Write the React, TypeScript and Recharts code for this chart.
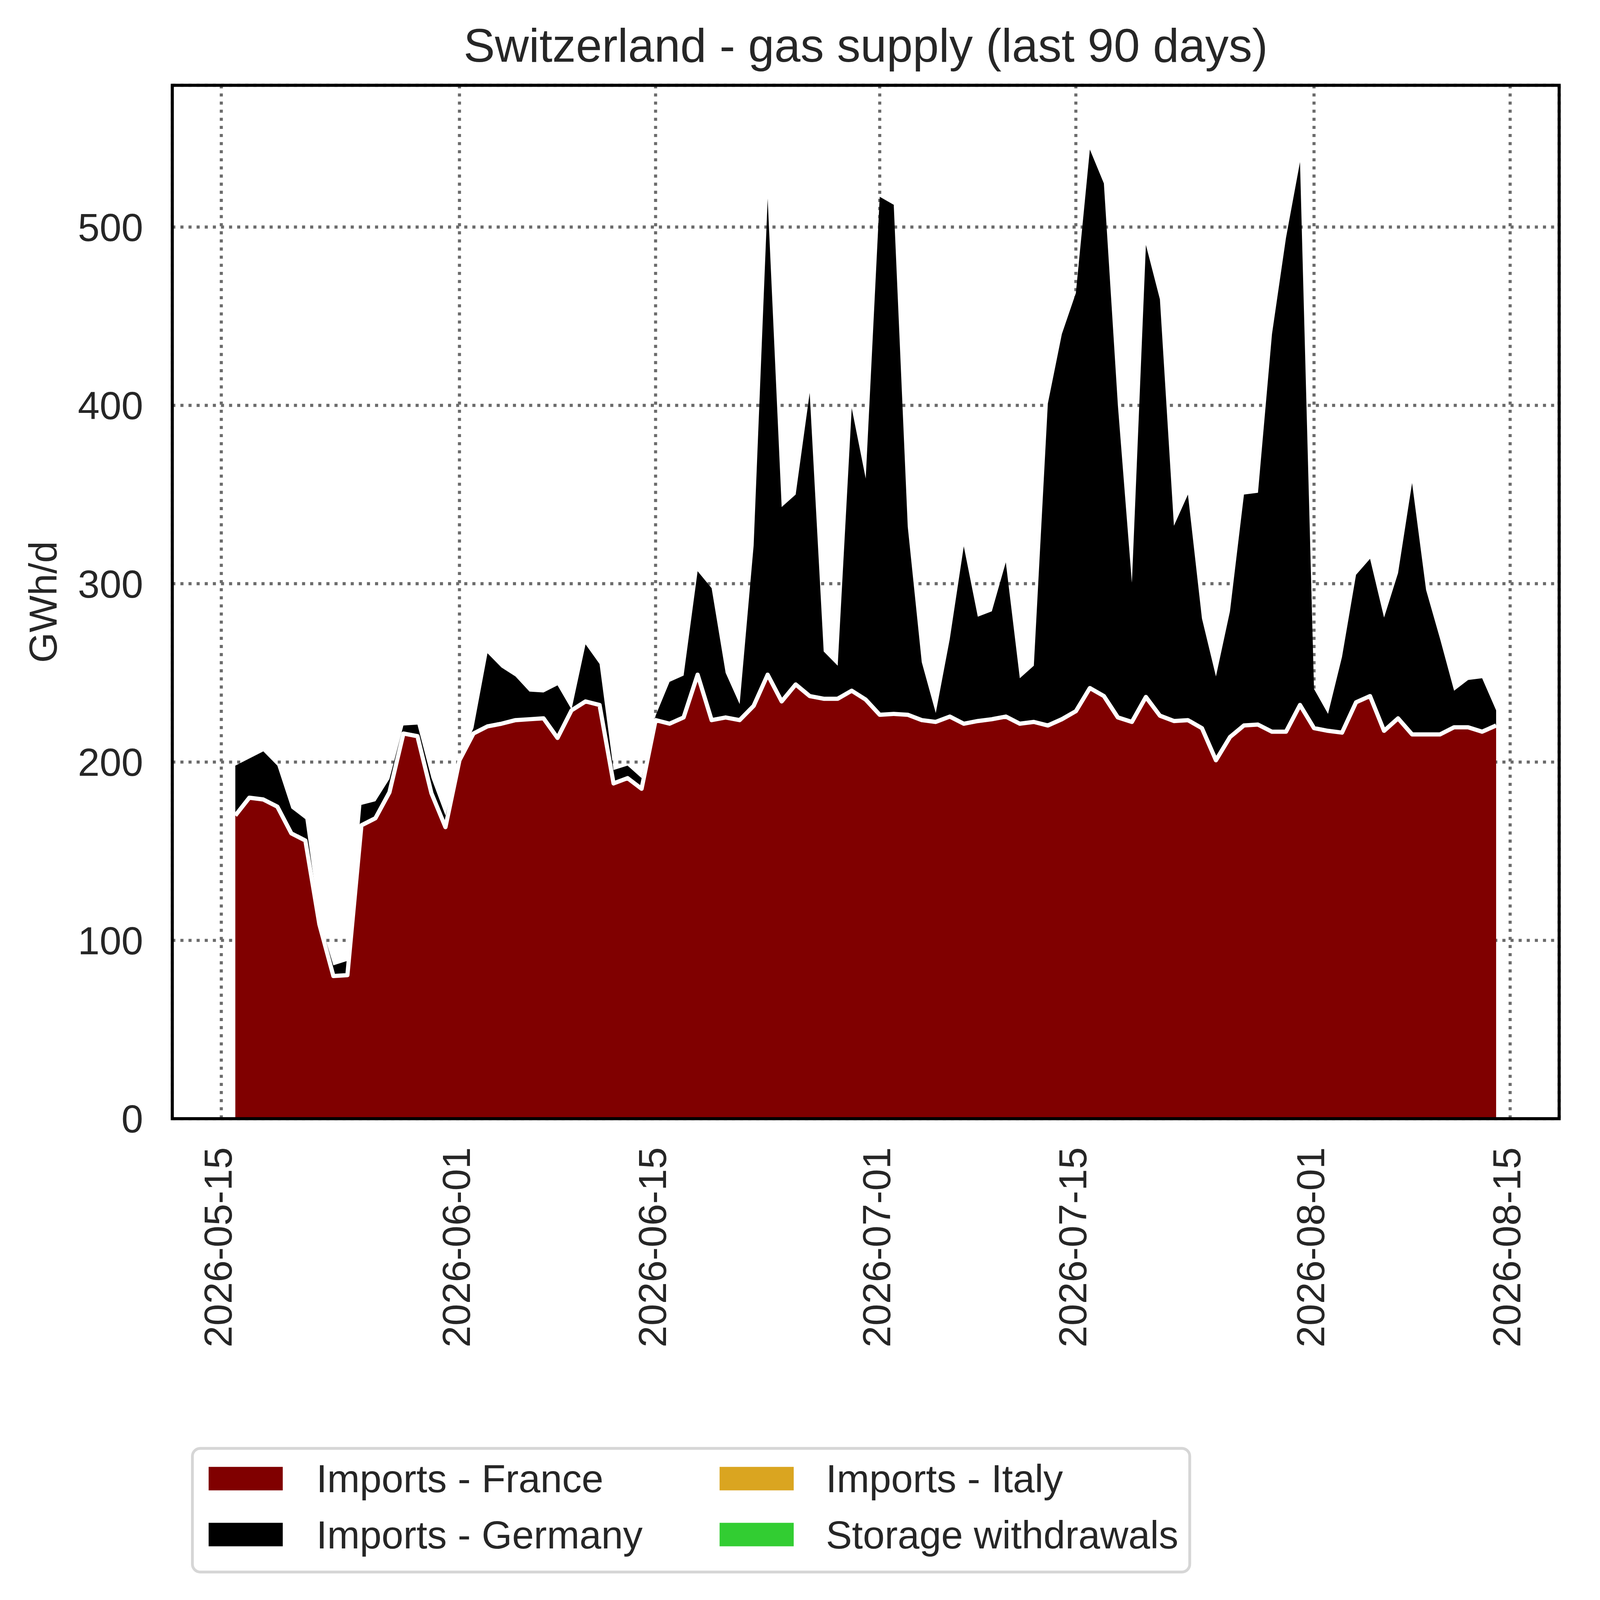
import React from "react";
import { Area, CartesianGrid, ComposedChart, Line, XAxis, YAxis } from "recharts";

// figure layout (pixels of the 5675 x 5721 canvas)
const WIDTH = 5675;
const HEIGHT = 5721;
const PLOT = { left: 616, right: 5575, top: 305, bottom: 4000 };
const Y_AXIS_W = 400;
const X_AXIS_H = 600;
const FONT = '"Liberation Sans", Arial, Helvetica, sans-serif';
const TEXT = "#262626";

// daily values from 2026-05-16 (day 0) to 2026-08-14 (day 90), GWh/d
const franceImports = [
  170, 180, 179, 175, 160, 156, 109, 80, 80.5, 164.5,
  168.5, 183, 216, 214.5, 182.5, 163.5, 201, 216, 220, 221.5,
  223.5, 224, 224.5, 213.5, 229, 234, 232, 188, 191, 185,
  223.5, 221.5, 225, 249, 223.5, 225, 223.5, 231.5, 249, 234,
  243.5, 237, 235.5, 235.5, 240, 235, 226.5, 227, 226.5, 223.5,
  222.5, 225.5, 221.5, 223, 224, 225.5, 221.5, 222.5, 220.5, 224,
  228.5, 241.5, 237, 225, 222.5, 236.5, 226, 223, 223.5, 219,
  201, 214, 220.5, 221, 217, 217, 232, 219, 217.5, 216.5,
  233.5, 237, 217.5, 224.5, 215.5, 215.5, 215.5, 219.5, 219.5, 217,
  220.5,
];

const germanyImports = [
  28, 22, 27, 23, 14, 12, 3, 6, 8, 11.5,
  9.5, 7.5, 4.5, 6.5, 8.5, 6.5, 0, 3, 41, 31.5,
  24.5, 15.5, 14.5, 29.5, 0.5, 32, 23, 7.5, 7, 6,
  2.5, 23.5, 23.5, 58, 74, 25, 9, 90, 267, 109,
  106.5, 170, 26.5, 18.5, 158.5, 124, 290.5, 285.5, 105.5, 32.5,
  5, 43.5, 99.5, 58.5, 60.5, 86.5, 25.5, 31.5, 180.5, 216,
  234.5, 302, 287.5, 175, 78, 253.5, 233.5, 109.5, 126.5, 61.5,
  47, 70.5, 129.5, 130, 223, 277, 304.5, 22, 9.5, 42.5,
  71.5, 77, 63.5, 81.5, 141, 81, 53.5, 20.5, 26.5, 30,
  8.5,
];

const italyImports = [
  0, 0, 0, 0, 0, 0, 0, 0, 0, 0,
  0, 0, 0, 0, 0, 0, 0, 0, 0, 0,
  0, 0, 0, 0, 0, 0, 0, 0, 0, 0,
  0, 0, 0, 0, 0, 0, 0, 0, 0, 0,
  0, 0, 0, 0, 0, 0, 0, 0, 0, 0,
  0, 0, 0, 0, 0, 0, 0, 0, 0, 0,
  0, 0, 0, 0, 0, 0, 0, 0, 0, 0,
  0, 0, 0, 0, 0, 0, 0, 0, 0, 0,
  0, 0, 0, 0, 0, 0, 0, 0, 0, 0,
  0,
];

const storageWithdrawals = [
  0, 0, 0, 0, 0, 0, 0, 0, 0, 0,
  0, 0, 0, 0, 0, 0, 0, 0, 0, 0,
  0, 0, 0, 0, 0, 0, 0, 0, 0, 0,
  0, 0, 0, 0, 0, 0, 0, 0, 0, 0,
  0, 0, 0, 0, 0, 0, 0, 0, 0, 0,
  0, 0, 0, 0, 0, 0, 0, 0, 0, 0,
  0, 0, 0, 0, 0, 0, 0, 0, 0, 0,
  0, 0, 0, 0, 0, 0, 0, 0, 0, 0,
  0, 0, 0, 0, 0, 0, 0, 0, 0, 0,
  0,
];

const yTicks = [0, 100, 200, 300, 400, 500];
// day offsets (from 2026-05-16) of the date ticks
const dateTickDays = [-1, 16, 30, 46, 60, 77, 91];
const dateTickLabels = [
  "2026-05-15",
  "2026-06-01",
  "2026-06-15",
  "2026-07-01",
  "2026-07-15",
  "2026-08-01",
  "2026-08-15",
];

const series = [
  { key: "france", name: "Imports - France", color: "#800000" },
  { key: "germany", name: "Imports - Germany", color: "#000000" },
  { key: "italy", name: "Imports - Italy", color: "#DAA520" },
  { key: "storage", name: "Storage withdrawals", color: "#32CD32" },
];

const rows = franceImports.map((v, i) => ({
  day: i,
  france: v,
  germany: germanyImports[i],
  italy: italyImports[i],
  storage: storageWithdrawals[i],
}));

function DateTick(props: any) {
  const { x, y, payload } = props;
  const idx = dateTickDays.indexOf(payload.value);
  const ty = y + 102;
  return (
    <text
      x={x}
      y={ty}
      dy={37}
      transform={`rotate(-90 ${x} ${ty})`}
      textAnchor="end"
      fontSize={140}
      fontFamily={FONT}
      fill={TEXT}
    >
      {dateTickLabels[idx]}
    </text>
  );
}

function Overlay() {
  const midX = (PLOT.left + PLOT.right) / 2;
  const midY = (PLOT.top + PLOT.bottom) / 2;
  return (
    <svg
      width={WIDTH}
      height={HEIGHT}
      style={{ position: "absolute", left: 0, top: 0, pointerEvents: "none" }}
      fontFamily={FONT}
    >
      <rect
        x={PLOT.left}
        y={PLOT.top}
        width={PLOT.right - PLOT.left}
        height={PLOT.bottom - PLOT.top}
        fill="none"
        stroke="#000"
        strokeWidth={11}
      />
      <text x={midX} y={221} textAnchor="middle" fontSize={168} fill={TEXT}>
        Switzerland - gas supply (last 90 days)
      </text>
      <text
        x={202}
        y={midY}
        transform={`rotate(-90 202 ${midY})`}
        textAnchor="middle"
        fontSize={140}
        fill={TEXT}
      >
        GWh/d
      </text>
      {/* legend */}
      <rect x={688} y={5179} width={3566} height={442} rx={28} fill="#fff" stroke="#d6d6d6" strokeWidth={10} />
      {series.map((s, i) => {
        const col = Math.floor(i / 2);
        const row = i % 2;
        const px = col === 0 ? 746 : 2573;
        const tx = col === 0 ? 1131 : 2953;
        const base = row === 0 ? 5336 : 5536;
        return (
          <g key={s.key}>
            <rect x={px} y={base - 91} width={265} height={84} fill={s.color} />
            <text x={tx} y={base} fontSize={140} fill={TEXT}>
              {s.name}
            </text>
          </g>
        );
      })}
    </svg>
  );
}

export default function App() {
  // fit the fixed-size figure into whatever viewport the page gets
  const scale = Math.min(1, window.innerWidth / WIDTH, window.innerHeight / HEIGHT);
  return (
    <div
      style={{
        position: "absolute",
        left: 0,
        top: 0,
        width: WIDTH * scale,
        height: HEIGHT * scale,
        overflow: "hidden",
        background: "#fff",
      }}
    >
      <div
        style={{
          position: "relative",
          width: WIDTH,
          height: HEIGHT,
          transform: `scale(${scale})`,
          transformOrigin: "0 0",
        }}
      >
        <ComposedChart
          width={WIDTH}
          height={HEIGHT}
          data={rows}
          margin={{
            top: PLOT.top,
            right: WIDTH - PLOT.right,
            bottom: HEIGHT - PLOT.bottom - X_AXIS_H,
            left: PLOT.left - Y_AXIS_W,
          }}
        >
          <CartesianGrid stroke="#6b6b6b" strokeWidth={11} strokeDasharray="11 18" />
          <XAxis
            type="number"
            dataKey="day"
            domain={[-4.5, 94.5]}
            allowDataOverflow
            ticks={dateTickDays}
            interval={0}
            height={X_AXIS_H}
            axisLine={false}
            tickLine={false}
            tickSize={0}
            tickMargin={0}
            tick={<DateTick />}
          />
          <YAxis
            type="number"
            domain={[0, 579.5]}
            allowDataOverflow
            ticks={yTicks}
            interval={0}
            width={Y_AXIS_W}
            axisLine={false}
            tickLine={false}
            tickSize={0}
            tickMargin={104}
            tick={{ fontSize: 140, fill: TEXT, fontFamily: FONT }}
          />
          {series.map((s) => (
            <Area
              key={s.key}
              dataKey={s.key}
              name={s.name}
              stackId="supply"
              type="linear"
              fill={s.color}
              fillOpacity={1}
              stroke="none"
              dot={false}
              activeDot={false}
              isAnimationActive={false}
            />
          ))}
          {/* white edge along the top of the France band, drawn over the stack */}
          <Line
            dataKey="france"
            type="linear"
            stroke="#ffffff"
            strokeWidth={15}
            strokeLinejoin="round"
            dot={false}
            activeDot={false}
            legendType="none"
            isAnimationActive={false}
          />
        </ComposedChart>
        <Overlay />
      </div>
    </div>
  );
}
